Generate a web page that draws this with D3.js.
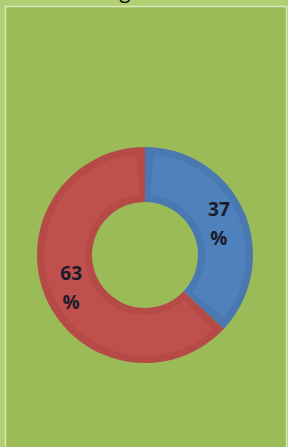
<!DOCTYPE html>
<html><head><meta charset="utf-8">
<script src="https://cdn.jsdelivr.net/npm/d3@7"></script>
<style>html,body{margin:0;padding:0;background:#b1cf72;overflow:hidden}</style>
</head><body>
<svg id="c" width="288" height="447"></svg>
<script>
const categories = ["B", "A"];
const values = [37, 63];
const labels = ["37\n%", "63\n%"];
const fills = ["#4f81bd", "#c0504d"];
const darks = ["#4a78b0", "#b54a47"];

const svg = d3.select("#c");
svg.append("rect").attr("x",0).attr("y",0).attr("width",288).attr("height",447).attr("fill","#b1cf72");
svg.append("rect").attr("x",5.5).attr("y",6.5).attr("width",281).attr("height",450)
  .attr("fill","#9bbb59").attr("stroke","#d6e6bd").attr("stroke-width",1.5);
svg.append("text").attr("x",125).attr("y",-2).attr("text-anchor","middle")
  .attr("font-family","Open Sans").attr("font-size",20).attr("fill","#000").text("g");

const cx = 145, cy = 255, R = 108, r = 53, band = 7;
const pie = d3.pie().sort(null).value(d => d)(values);
const g = svg.append("g").attr("transform",`translate(${cx},${cy})`);
const arcOuter = d3.arc().innerRadius(r).outerRadius(R);
const arcInner = d3.arc().innerRadius(r+band).outerRadius(R-band);
g.selectAll("path.o").data(pie).join("path").attr("class","o")
  .attr("d", arcOuter).attr("fill", (d,i) => darks[i]);
g.selectAll("path.i").data(pie).join("path").attr("class","i")
  .attr("d", d => {
    const a = band / ((R + r) / 2);
    return arcInner({startAngle: d.startAngle + a, endAngle: d.endAngle - a});
  }).attr("fill", (d,i) => fills[i]);

const lab = g.selectAll("text.l").data(pie).join("text").attr("class","l")
  .attr("transform", d => `translate(${arcOuter.centroid(d)})`)
  .attr("text-anchor","middle").attr("font-family","Open Sans").attr("font-weight","bold")
  .attr("font-size",19).attr("fill","#1b1b2b");
lab.each(function(d,i){
  const parts = labels[i].split("\n");
  d3.select(this).selectAll("tspan").data(parts).join("tspan")
    .attr("x",0).attr("y",(p,j)=> -7 + j*29).text(p=>p);
});
</script>
</body></html>
